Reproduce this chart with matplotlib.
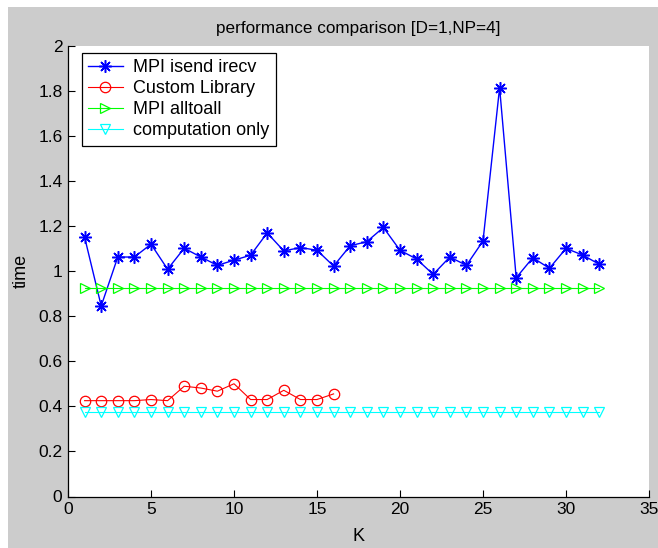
import matplotlib.pyplot as plt
from matplotlib.patches import Rectangle
import numpy as np

K = np.arange(1, 33)
K_CUSTOM = np.arange(1, 17)

isend_irecv = [1.15, 0.845, 1.062, 1.062, 1.119, 1.008, 1.101, 1.062, 1.025, 1.048,
               1.07, 1.169, 1.089, 1.104, 1.092, 1.022, 1.112, 1.13, 1.193, 1.092,
               1.053, 0.985, 1.062, 1.025, 1.133, 1.813, 0.97, 1.059, 1.012, 1.1,
               1.071, 1.03]
custom_library = [0.425, 0.425, 0.425, 0.425, 0.43, 0.425, 0.489, 0.481, 0.467, 0.5,
                  0.43, 0.43, 0.471, 0.43, 0.43, 0.455]
alltoall = [0.925] * 32
computation_only = [0.375] * 32

FONT = "Liberation Sans"


def main():
    fig = plt.figure(figsize=(6.58, 5.48), dpi=100, facecolor="white")
    fig.patches.append(Rectangle((8 / 658, 0), 1, 1 - 7 / 548, transform=fig.transFigure,
                                 facecolor="#cccccc", edgecolor="none", zorder=-10))

    ax = fig.add_axes([68 / 658, 1 - 496.5 / 548, 581 / 658, 451 / 548])
    ax.set_facecolor("white")

    ax.plot(K, isend_irecv, color="#0000ff", lw=1.0, marker=(8, 2, 0), ms=9, mew=1.1,
            label="MPI isend irecv")
    ax.plot(K_CUSTOM, custom_library, color="#ff0000", lw=0.8, marker="o", ms=7.5,
            mfc="none", mew=0.9, label="Custom Library")
    ax.plot(K, alltoall, color="#00ff00", lw=0.8, marker=">", ms=7.5, mfc="none",
            mew=0.9, label="MPI alltoall")
    ax.plot(K, computation_only, color="#00ffff", lw=0.8, marker="v", ms=7.5, mfc="none",
            mew=0.9, label="computation only")

    ax.set_xlim(0, 35)
    ax.set_ylim(0, 2)
    ax.set_xticks(np.arange(0, 36, 5))
    ax.set_yticks(np.round(np.arange(0, 2.01, 0.2), 1))
    ax.set_yticklabels(["0", "0.2", "0.4", "0.6", "0.8", "1", "1.2", "1.4", "1.6", "1.8", "2"])

    for side in ("top", "right"):
        ax.spines[side].set_visible(False)
    for side in ("left", "bottom"):
        ax.spines[side].set_linewidth(0.9)
    ax.tick_params(direction="in", length=5, width=0.8, labelsize=12.5, pad=4)
    for lbl in ax.get_xticklabels() + ax.get_yticklabels():
        lbl.set_fontfamily(FONT)

    ax.set_title("performance comparison [D=1,NP=4]", fontsize=12.3, family=FONT, pad=9)
    ax.set_xlabel("K", fontsize=13, family=FONT, labelpad=8)
    ax.set_ylabel("time", fontsize=13, family=FONT, labelpad=6)

    leg = ax.legend(loc="upper left", bbox_to_anchor=(0.024, 0.983), borderaxespad=0,
                    prop={"family": FONT, "size": 13}, fancybox=False, framealpha=1,
                    edgecolor="black", handlelength=1.9, borderpad=0.35, labelspacing=0.22,
                    handletextpad=0.6)
    leg.get_frame().set_linewidth(0.9)

    fig.savefig("out.png", dpi=100, facecolor=fig.get_facecolor())
    plt.close(fig)


if __name__ == "__main__":
    main()
